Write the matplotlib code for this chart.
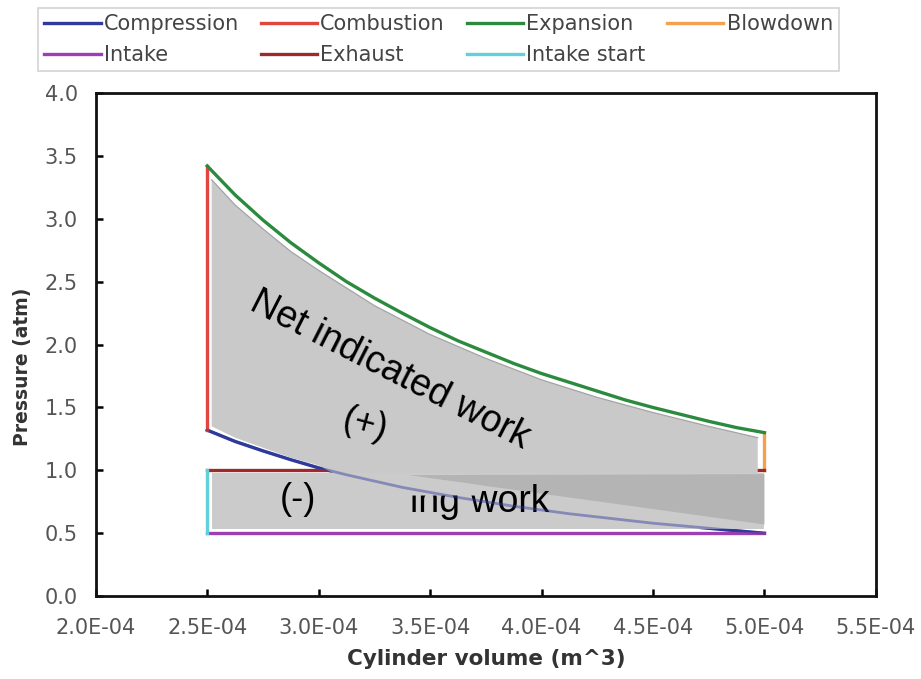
import matplotlib
matplotlib.use('Agg')
import matplotlib.pyplot as plt
from matplotlib.ticker import FuncFormatter, MultipleLocator

plt.rcParams['font.family'] = ['DejaVu Sans']

# cylinder volume (m^3) sampled along the strokes
vol = [2.500e-4, 2.625e-4, 2.750e-4, 2.875e-4, 3.000e-4, 3.125e-4, 3.250e-4,
       3.375e-4, 3.500e-4, 3.625e-4, 3.750e-4, 3.875e-4, 4.000e-4, 4.125e-4,
       4.250e-4, 4.375e-4, 4.500e-4, 4.625e-4, 4.750e-4, 4.875e-4, 5.000e-4]
# pressures (atm)
p_compression = [1.32, 1.23, 1.155, 1.085, 1.02, 0.965, 0.915, 0.865, 0.825, 0.785, 0.75,
                 0.715, 0.685, 0.655, 0.63, 0.605, 0.58, 0.56, 0.54, 0.52, 0.50]
p_expansion = [3.42, 3.19, 2.99, 2.81, 2.65, 2.50, 2.37, 2.25, 2.135, 2.03, 1.94,
               1.85, 1.77, 1.70, 1.63, 1.56, 1.50, 1.445, 1.39, 1.34, 1.30]

v_tdc, v_bdc = 2.5e-4, 5.0e-4
p_exhaust, p_intake = 1.0, 0.5

# grey overlay shapes
net_top_v = [2.52e-4, 2.625e-4, 2.75e-4, 2.875e-4, 3.0e-4, 3.25e-4, 3.5e-4, 3.75e-4,
             4.0e-4, 4.25e-4, 4.5e-4, 4.75e-4, 4.97e-4]
net_top_p = [3.31, 3.11, 2.92, 2.74, 2.59, 2.31, 2.08, 1.89, 1.72, 1.58, 1.46, 1.35, 1.26]
net_low_v = [4.97e-4, 3.07e-4, 3.0e-4, 2.875e-4, 2.75e-4, 2.625e-4, 2.52e-4]
net_low_p = [0.972, 0.972, 1.04, 1.10, 1.18, 1.26, 1.35]
pump_v = [2.52e-4, 5.0e-4, 5.0e-4, 2.52e-4]
pump_p = [0.978, 0.978, 0.53, 0.53]
wedge_v = [3.40e-4, 5.0e-4, 5.0e-4]
wedge_p = [0.962, 0.97, 0.57]
cover_v = [3.36e-4, 3.40e-4, 3.72e-4, 3.72e-4, 3.36e-4]
cover_p = [0.97, 0.962, 0.884, 0.80, 0.80]

fig = plt.figure(figsize=(9.21, 6.79), dpi=100)
ax = fig.add_axes([0.104, 0.122, 0.847, 0.741])

lw = 2.4
ax.plot(vol[::-1], p_compression[::-1], color='#2e3a9c', lw=lw, label='Compression', zorder=2)
ax.plot([v_tdc, v_tdc], [p_compression[0], p_expansion[0]], color='#e2453e', lw=lw, label='Combustion', zorder=2)
ax.plot(vol, p_expansion, color='#2b8a3e', lw=lw, label='Expansion', zorder=4)
ax.plot([v_bdc, v_bdc], [p_expansion[-1], p_exhaust], color='#f2a24e', lw=lw, label='Blowdown', zorder=2)
ax.plot([v_tdc, v_bdc], [p_intake, p_intake], color='#9b3fb3', lw=lw, label='Intake', zorder=2)
ax.plot([v_bdc, v_tdc], [p_exhaust, p_exhaust], color='#9c2b2b', lw=lw, label='Exhaust', zorder=2)
ax.plot([v_tdc, v_tdc], [p_exhaust, p_intake], color='#62d0d8', lw=lw, label='Intake start', zorder=2)

# pasted work areas
ax.fill(net_top_v + net_low_v, net_top_p + net_low_p, facecolor='#c9c9c9',
        edgecolor='none', zorder=3)
ax.plot(net_top_v, net_top_p, color='#a4a4a4', lw=0.9, zorder=3.1)
ax.fill(pump_v, pump_p, facecolor='#cbcbcb', edgecolor='none', zorder=3)
ax.fill(wedge_v, wedge_p, facecolor='#b4b4b4', edgecolor='none', zorder=3.2)

ax.text(3.32e-4, 1.80, 'Net indicated work', fontsize=27, rotation=-27,
        family='Liberation Sans', ha='center', va='center', zorder=5)
ax.text(3.21e-4, 1.36, '(+)', fontsize=26, rotation=-15,
        family='Liberation Sans', ha='center', va='center', zorder=5)
ax.text(2.906e-4, 0.77, '(-)', fontsize=26,
        family='Liberation Sans', ha='center', va='center', zorder=5)
ax.text(3.723e-4, 0.67, 'ing work', fontsize=27,
        family='Liberation Sans', ha='center', va='baseline', zorder=5)
# piece of the pasted picture lying over the text
ax.fill(cover_v, cover_p, facecolor='#cbcbcb', edgecolor='none', zorder=6)
# compression line shows faintly through the overlay
ax.plot(vol, p_compression, color='#2e3a9c', lw=2, alpha=0.45, zorder=7)

ax.set_xlim(2.0e-4, 5.5e-4)
ax.set_ylim(0, 4.0)
ax.xaxis.set_major_locator(MultipleLocator(0.5e-4))
ax.yaxis.set_major_locator(MultipleLocator(0.5))
ax.xaxis.set_major_formatter(FuncFormatter(lambda v, pos: f'{v:.1E}'))
ax.yaxis.set_major_formatter(FuncFormatter(lambda v, pos: f'{v:.1f}'))
ax.tick_params(direction='in', length=5, width=1.8, labelsize=15, colors='black',
               labelcolor='#555555')
ax.tick_params(axis='x', pad=16)
ax.tick_params(axis='y', pad=13)
for s in ax.spines.values():
    s.set_linewidth(2)
    s.set_color('#111111')

ax.set_xlabel('Cylinder volume (m^3)', fontsize=15.5, fontweight='bold', color='#333333', labelpad=8)
ax.set_ylabel('Pressure (atm)', fontsize=13.5, fontweight='bold', color='#333333')
ax.yaxis.set_label_coords(-0.082, 0.455)

# legend filled row by row like the original
order = ['Compression', 'Intake', 'Combustion', 'Exhaust', 'Expansion', 'Intake start', 'Blowdown']
handles, labels = ax.get_legend_handles_labels()
lookup = dict(zip(labels, handles))
leg = fig.legend([lookup[k] for k in order], order, loc='upper left',
                 bbox_to_anchor=(0.0413, 0.988), borderaxespad=0, ncol=4, fontsize=15,
                 frameon=True, fancybox=False, edgecolor='#c8c8c8', handlelength=2.7,
                 handletextpad=0.15, columnspacing=1.05, labelspacing=0.5, borderpad=0.3)
leg.get_frame().set_linewidth(1.2)
for t in leg.get_texts():
    t.set_color('#444444')

fig.savefig('out.png', dpi=100)
